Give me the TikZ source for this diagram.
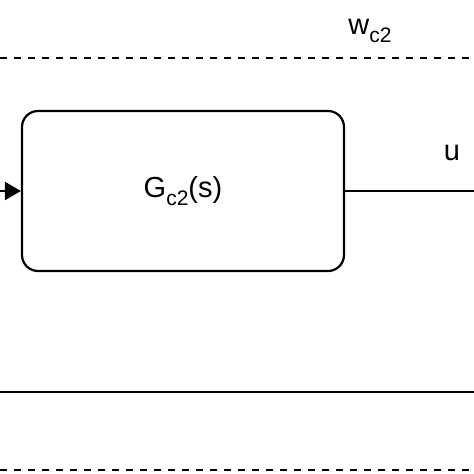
\documentclass[tikz,border=0pt]{standalone}
\usepackage{fontspec}
\setmainfont{Liberation Sans}
\usetikzlibrary{arrows.meta}
\newcommand{\sbs}[1]{\raisebox{-0.25em}{\fontsize{21}{24}\selectfont #1}}
\begin{document}
\begin{tikzpicture}[x=1pt,y=-1pt,
  ln/.style={line width=2.2pt},
  dsh/.style={line width=2pt,dash pattern=on 7pt off 7pt},
  lbl/.style={font=\fontsize{29}{34}\selectfont}]
\useasboundingbox (0,0) rectangle (474,474);
\node[draw,ln,rounded corners=16pt,minimum width=322pt,minimum height=160pt,inner sep=0,lbl] (g) at (183,191) {G\sbs{c2}(s)};
\coordinate (in) at (-8,191);
\coordinate (out) at (476,191);
\draw[ln,-{Triangle[length=16pt,width=18pt]}] (in) -- (g.west);
\draw[ln] (g.east) -- (out);
\node[lbl] (u) at (452,153) {u};
\coordinate (d1a) at (0,58); \coordinate (d1b) at (474,58);
\draw[dsh] (d1a) -- (d1b);
\node[lbl] (w) at (370,31) {w\sbs{c2}};
\coordinate (s1) at (0,392); \coordinate (s2) at (474,392);
\draw[ln] (s1) -- (s2);
\coordinate (d2a) at (0,470); \coordinate (d2b) at (474,470);
\draw[dsh] (d2a) -- (d2b);
\end{tikzpicture}
\end{document}
